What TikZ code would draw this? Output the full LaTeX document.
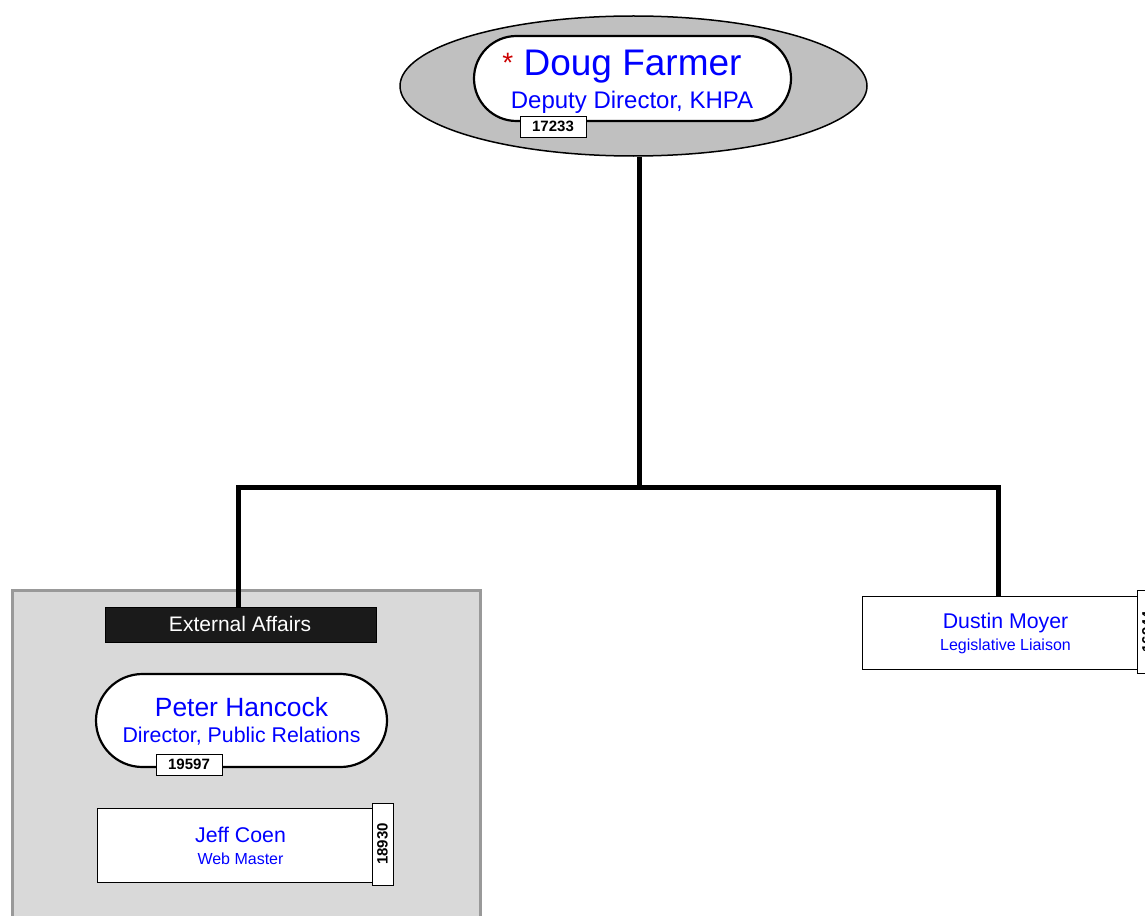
\documentclass[tikz,border=0pt]{standalone}
\usepackage{fontspec}
\setmainfont{Liberation Sans}
\usetikzlibrary{shapes.geometric,shapes.misc}
\definecolor{nameblue}{RGB}{0,0,255}
\definecolor{starred}{RGB}{204,0,0}
\definecolor{ovalgray}{RGB}{192,192,192}
\definecolor{groupgray}{RGB}{217,217,217}
\definecolor{groupline}{RGB}{153,153,153}
\definecolor{barblack}{RGB}{26,26,26}
\tikzset{
	conn/.style={line width=5pt},
	pill/.style={rounded rectangle,draw,fill=white,line width=2.2pt,inner sep=0pt},
	personbox/.style={rectangle,draw,fill=white,line width=0.8pt,inner sep=0pt},
	idbox/.style={rectangle,draw,fill=white,line width=0.8pt,inner sep=0pt,minimum width=66pt,minimum height=21pt,font=\fontsize{15}{15}\selectfont\bfseries},
	idtab/.style={idbox,minimum width=21pt,minimum height=82pt},
	nametext/.style={anchor=base,text=nameblue,inner sep=0pt},
}
\begin{document}
\begin{tikzpicture}[x=1pt,y=-1pt]
	\def\bigname{\fontsize{37}{37}\selectfont}
	\def\midname{\fontsize{21.3}{21.3}\selectfont}
	\def\smalltitle{\fontsize{16}{16}\selectfont}
	\useasboundingbox (0,0) rectangle (1145,915);
	% group behind external affairs
	\filldraw[fill=groupgray,draw=groupline,line width=3pt] (12,590) rectangle (480,925);
	% top
	\node[ellipse,draw,fill=ovalgray,line width=1.5pt,minimum width=467pt,minimum height=140pt] (top) at (633.5,86) {};
	\node[pill,minimum width=317pt,minimum height=85pt] (dougpill) at (632.5,78.5) {};
	\node[nametext,font=\bigname] (dougname) at (622,76) {\textcolor{starred}{\raisebox{3pt}{\fontsize{28}{28}\selectfont *}} Doug Farmer};
	\node[nametext,font=\fontsize{24}{24}\selectfont] (dougtitle) at (632,109) {Deputy Director, KHPA};
	\node[idbox] (dougid) at (553,126.5) {17233};
	% external affairs
	\node[rectangle,draw,fill=barblack,minimum width=271pt,minimum height=35pt,inner sep=0pt] (extaff) at (240.5,624.5) {};
	\node[anchor=base,text=white,inner sep=0pt,font=\fontsize{21}{21}\selectfont] (extafftext) at (240,631) {External Affairs};
	\node[pill,minimum width=291pt,minimum height=93pt] (peterpill) at (241.5,720.5) {};
	\node[nametext,font=\fontsize{26.4}{26.4}\selectfont] (petername) at (241.5,716) {Peter Hancock};
	\node[nametext,font=\midname] (petertitle) at (241.5,742.7) {Director, Public Relations};
	\node[idbox] (peterid) at (189,764.5) {19597};
	\node[personbox,minimum width=276pt,minimum height=74pt] (jeffbox) at (235,845) {};
	\node[nametext,font=\midname] (jeffname) at (240.5,842) {Jeff Coen};
	\node[nametext,font=\smalltitle] (jefftitle) at (240.5,864) {Web Master};
	\node[idtab] (jeffid) at (382.5,844) {\rotatebox{90}{18930}};
	% liaison
	\node[personbox,minimum width=275pt,minimum height=73pt] (dustinbox) at (999.5,632.5) {};
	\node[nametext,font=\midname] (dustinname) at (1005.5,628) {Dustin Moyer};
	\node[nametext,font=\smalltitle] (dustintitle) at (1005.5,650.7) {Legislative Liaison};
	\node[idtab,minimum height=83pt] (dustinid) at (1147.5,631.5) {\rotatebox{90}{16944}};
	% connectors
	\coordinate (bus) at (639,487);
	\draw[conn] (top.south -| bus) -- (bus);
	\draw[conn] ([xshift=-2.5pt]extaff.north) |- (bus) -| ([xshift=-1.5pt]dustinbox.north);
\end{tikzpicture}
\end{document}
